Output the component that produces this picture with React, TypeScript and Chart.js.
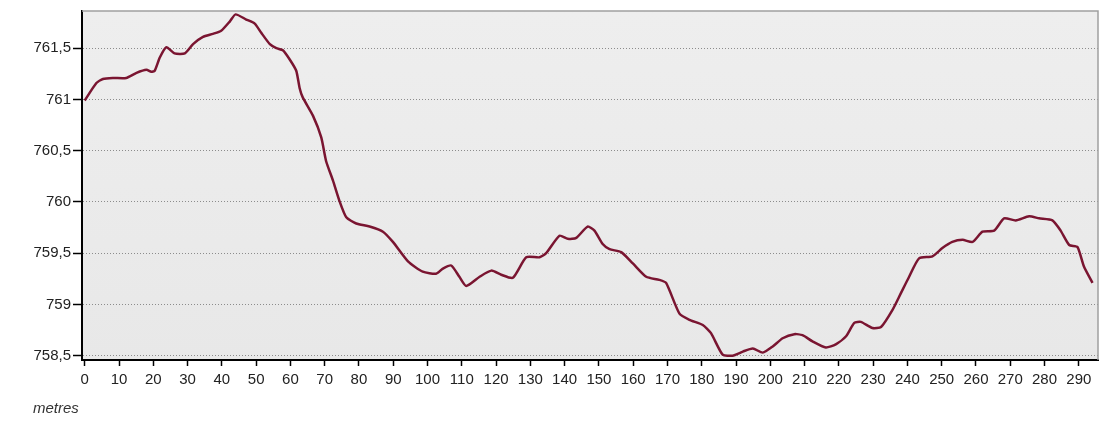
import React, { useEffect, useRef } from "react";
import { Chart, registerables } from "chart.js";

Chart.register(...registerables);

const distances = [
  0, 3.4, 5.3, 8.2, 12.1, 15.1, 18, 19.4, 20.4, 21.9, 23.8, 26.2, 29.2, 31.6, 34.5, 37.4, 39.8, 42.3, 44,
  47.1, 49.6, 51.5, 54, 55.9, 57.8, 59.8, 61.7, 62.7, 63.6, 66.6, 69, 70.4, 72.4, 74.3, 76.3, 79.2, 83.1,
  87, 89.9, 94.3, 98.6, 102.5, 104.5, 106.9, 109.3, 111.3, 115.2, 118.6, 121.5, 124.9, 128.8, 132.7, 134.6,
  138.5, 140.9, 143.4, 146.7, 148.7, 151.1, 153.1, 156.5, 159.9, 163.8, 167.6, 169.6, 173.5, 176.4, 180.3,
  182.7, 186.1, 189, 192, 194.9, 197.8, 200.7, 203.6, 207, 209.4, 212.3, 216.2, 219.1, 222.1, 224.5, 226.4,
  229.8, 232.3, 235.7, 238.1, 240.5, 243.4, 247.3, 250.2, 253.1, 256.1, 259, 261.9, 265.3, 268.2, 271.6,
  275.5, 278.4, 282.3, 284.7, 287.2, 289.6, 291.5, 294,
];

const elevations = [
  760.99, 761.16, 761.2, 761.21, 761.21, 761.26, 761.29, 761.27, 761.28, 761.41, 761.51, 761.45, 761.45,
  761.54, 761.61, 761.64, 761.67, 761.76, 761.83, 761.78, 761.74, 761.65, 761.54, 761.5, 761.48, 761.39,
  761.28, 761.11, 761.02, 760.84, 760.63, 760.4, 760.21, 760.01, 759.85, 759.79, 759.76, 759.71, 759.61,
  759.42, 759.32, 759.3, 759.35, 759.38, 759.27, 759.18, 759.27, 759.33, 759.29, 759.26, 759.46, 759.46,
  759.5, 759.67, 759.64, 759.65, 759.76, 759.72, 759.59, 759.54, 759.51, 759.4, 759.27, 759.24, 759.21,
  758.91, 758.85, 758.8, 758.72, 758.51, 758.5, 758.54, 758.57, 758.53, 758.59, 758.67, 758.71, 758.7,
  758.64, 758.58, 758.61, 758.69, 758.82, 758.83, 758.77, 758.78, 758.95, 759.11, 759.27, 759.45, 759.47,
  759.55, 759.61, 759.63, 759.61, 759.71, 759.72, 759.84, 759.82, 759.86, 759.84, 759.82, 759.72, 759.58,
  759.56, 759.37, 759.21,
];

const xTicks = [
  0, 10, 20, 30, 40, 50, 60, 70, 80, 90, 100, 110, 120, 130, 140, 150, 160, 170, 180, 190, 200, 210, 220,
  230, 240, 250, 260, 270, 280, 290,
];
const yTicks = [758.5, 759, 759.5, 760, 760.5, 761, 761.5];
const xAxisLabel = "metres";

export default function App() {
  const ref = useRef<HTMLCanvasElement>(null);

  useEffect(() => {
    if (!ref.current) return;
    const plotFrame = {
      id: "plotFrame",
      beforeDraw(chart: any) {
        const { ctx, chartArea: a } = chart;
        ctx.save();
        const g = ctx.createLinearGradient(0, a.top, 0, a.bottom);
        g.addColorStop(0, "#eeeeee");
        g.addColorStop(1, "#e8e8e8");
        ctx.fillStyle = g;
        ctx.fillRect(a.left, a.top, a.right - a.left, a.bottom - a.top);
        ctx.restore();
      },
      afterDraw(chart: any) {
        const { ctx, chartArea: a } = chart;
        ctx.save();
        ctx.strokeStyle = "#a0a0a0";
        ctx.lineWidth = 1.5;
        ctx.beginPath();
        ctx.moveTo(a.left, a.top);
        ctx.lineTo(a.right, a.top);
        ctx.lineTo(a.right, a.bottom);
        ctx.stroke();
        ctx.restore();
      },
    };

    const font = { family: "'Liberation Sans', Arial, sans-serif", size: 15 };

    const chart = new Chart(ref.current, {
      type: "line",
      data: {
        datasets: [
          {
            data: distances.map((x, i) => ({ x, y: elevations[i] })),
            borderColor: "#7a1531",
            borderWidth: 2.5,
            pointRadius: 0,
            tension: 0.2,
            fill: false,
          },
        ],
      },
      options: {
        animation: false,
        responsive: false,
        maintainAspectRatio: false,
        layout: { padding: { top: 9, right: 2, left: 0, bottom: 0 } },
        plugins: { legend: { display: false }, tooltip: { enabled: false } },
        scales: {
          x: {
            type: "linear",
            min: -0.8,
            max: 295.6,
            afterBuildTicks: (s: any) => {
              s.ticks = xTicks.map((v) => ({ value: v }));
            },
            afterFit: (s: any) => {
              s.height = 61;
            },
            ticks: {
              font,
              color: "#222",
              padding: 5,
              maxRotation: 0,
              autoSkip: false,
              callback: (v: any) => String(v),
            },
            grid: {
              drawOnChartArea: false,
              drawTicks: true,
              tickLength: 6,
              tickColor: "#000",
              tickWidth: 1.5,
            },
            border: { color: "#000", width: 2 },
          },
          y: {
            type: "linear",
            min: 758.458,
            max: 761.863,
            afterBuildTicks: (s: any) => {
              s.ticks = yTicks.map((v) => ({ value: v }));
            },
            afterFit: (s: any) => {
              s.width = 82;
            },
            ticks: {
              font,
              color: "#222",
              padding: 2,
              callback: (v: any) => String(v).replace(".", ","),
            },
            grid: {
              color: "#8c8c8c",
              lineWidth: 1,
              tickLength: 9,
              tickColor: "#000",
              tickWidth: 1.5,
              tickBorderDash: [],
            },
            border: { color: "#000", width: 2, dash: [1, 2] },
          },
        },
      },
      plugins: [plotFrame],
    } as any);

    return () => chart.destroy();
  }, []);

  return (
    <div style={{ position: "fixed", left: 0, top: 0, width: 1100, height: 421, background: "#fff" }}>
      <canvas ref={ref} width={1100} height={421} style={{ display: "block" }} />
      <span
        style={{
          position: "absolute",
          left: 33,
          top: 399,
          fontFamily: "'Liberation Sans', Arial, sans-serif",
          fontStyle: "italic",
          fontSize: 15,
          color: "#333",
        }}
      >
        {xAxisLabel}
      </span>
    </div>
  );
}
